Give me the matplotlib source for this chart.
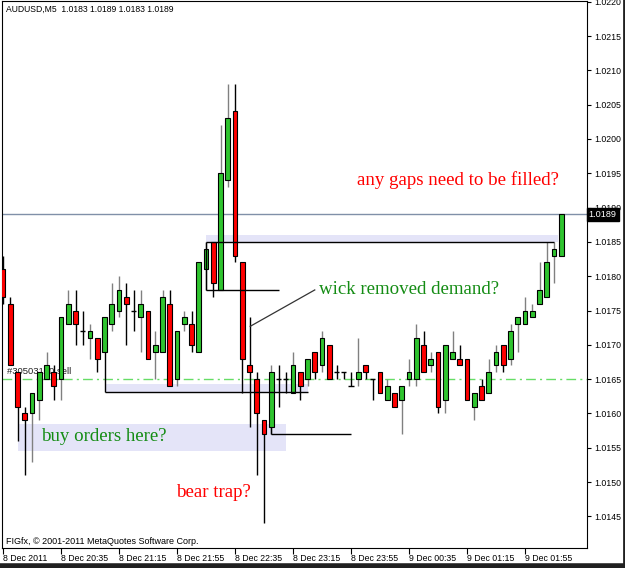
#!/usr/bin/env python3
"""AUDUSD M5 candles with hand-drawn notes, MetaTrader style."""
import numpy as np
import pandas as pd
import matplotlib
matplotlib.use("Agg")
import matplotlib.pyplot as plt
from matplotlib.patches import Rectangle
from matplotlib.transforms import blended_transform_factory

# --- data --------------------------------------------------------------------
opens = [1.0181, 1.0176, 1.0166, 1.0160, 1.0160, 1.0162, 1.0165, 1.0166, 1.0165, 1.0173,
         1.0175, 1.0172, 1.0171, 1.0171, 1.0169, 1.0173, 1.0175, 1.0177, 1.0175, 1.0174,
         1.0175, 1.0169, 1.0169, 1.0176, 1.0165, 1.0173, 1.0173, 1.0169, 1.0181, 1.0185,
         1.0178, 1.0194, 1.0204, 1.0182, 1.0167, 1.0165, 1.0159, 1.0158, 1.0165, 1.0165,
         1.0163, 1.0166, 1.0165, 1.0169, 1.0167, 1.0170, 1.0166, 1.0166, 1.0164, 1.0165,
         1.0167, 1.0165, 1.0166, 1.0162, 1.0163, 1.0162, 1.0165, 1.0165, 1.0170, 1.0167,
         1.0169, 1.0162, 1.0168, 1.0168, 1.0168, 1.0161, 1.0164, 1.0163, 1.0167, 1.0170,
         1.0168, 1.0173, 1.0173, 1.0174, 1.0176, 1.0177, 1.0183, 1.0183]
highs = [1.0183, 1.0177, 1.0166, 1.0161, 1.0163, 1.0166, 1.0169, 1.0167, 1.0174, 1.0178,
         1.0178, 1.0175, 1.0173, 1.0171, 1.0174, 1.0179, 1.0180, 1.0179, 1.0178, 1.0178,
         1.0175, 1.0172, 1.0178, 1.0178, 1.0172, 1.0175, 1.0175, 1.0182, 1.0185, 1.0185,
         1.0202, 1.0208, 1.0208, 1.0182, 1.0174, 1.0166, 1.0159, 1.0167, 1.0167, 1.0166,
         1.0169, 1.0166, 1.0168, 1.0169, 1.0172, 1.0170, 1.0167, 1.0166, 1.0166, 1.0171,
         1.0167, 1.0165, 1.0166, 1.0165, 1.0163, 1.0164, 1.0168, 1.0173, 1.0172, 1.0169,
         1.0169, 1.0170, 1.0172, 1.0170, 1.0168, 1.0163, 1.0165, 1.0168, 1.0170, 1.0170,
         1.0173, 1.0174, 1.0177, 1.0176, 1.0182, 1.0185, 1.0185, 1.0189]
lows = [1.0176, 1.0167, 1.0156, 1.0151, 1.0153, 1.0159, 1.0165, 1.0162, 1.0162, 1.0173,
        1.0170, 1.0170, 1.0168, 1.0166, 1.0169, 1.0172, 1.0174, 1.0170, 1.0172, 1.0169,
        1.0168, 1.0165, 1.0169, 1.0164, 1.0164, 1.0172, 1.0169, 1.0169, 1.0178, 1.0177,
        1.0178, 1.0193, 1.0182, 1.0163, 1.0158, 1.0151, 1.0144, 1.0157, 1.0161, 1.0163,
        1.0163, 1.0162, 1.0164, 1.0165, 1.0166, 1.0165, 1.0165, 1.0165, 1.0164, 1.0164,
        1.0165, 1.0162, 1.0163, 1.0162, 1.0161, 1.0157, 1.0164, 1.0164, 1.0166, 1.0166,
        1.0160, 1.0160, 1.0168, 1.0167, 1.0162, 1.0159, 1.0162, 1.0163, 1.0166, 1.0166,
        1.0167, 1.0169, 1.0173, 1.0174, 1.0176, 1.0177, 1.0179, 1.0183]
closes = [1.0177, 1.0167, 1.0161, 1.0159, 1.0163, 1.0166, 1.0167, 1.0164, 1.0174, 1.0176,
          1.0173, 1.0172, 1.0172, 1.0168, 1.0174, 1.0176, 1.0178, 1.0176, 1.0175, 1.0176,
          1.0168, 1.0170, 1.0177, 1.0164, 1.0172, 1.0174, 1.0170, 1.0182, 1.0184, 1.0179,
          1.0195, 1.0203, 1.0183, 1.0168, 1.0166, 1.0160, 1.0157, 1.0166, 1.0165, 1.0165,
          1.0167, 1.0164, 1.0168, 1.0166, 1.0171, 1.0165, 1.0166, 1.0166, 1.0164, 1.0166,
          1.0166, 1.0165, 1.0163, 1.0164, 1.0161, 1.0164, 1.0166, 1.0171, 1.0166, 1.0168,
          1.0161, 1.0170, 1.0169, 1.0167, 1.0162, 1.0163, 1.0162, 1.0166, 1.0169, 1.0167,
          1.0172, 1.0174, 1.0175, 1.0175, 1.0178, 1.0182, 1.0184, 1.0189]

times = pd.date_range("2011-12-08 19:55", periods=len(opens), freq="5min")
tick_labels = ["8 Dec 2011", "8 Dec 20:35", "8 Dec 21:15", "8 Dec 21:55", "8 Dec 22:35",
               "8 Dec 23:15", "8 Dec 23:55", "9 Dec 00:35", "9 Dec 01:15", "9 Dec 01:55"]
tick_times = ["2011-12-08 19:55", "2011-12-08 20:35", "2011-12-08 21:15", "2011-12-08 21:55",
              "2011-12-08 22:35", "2011-12-08 23:15", "2011-12-08 23:55", "2011-12-09 00:35",
              "2011-12-09 01:15", "2011-12-09 01:55"]
price_ticks = [1.0145, 1.0150, 1.0155, 1.0160, 1.0165, 1.0170, 1.0175, 1.0180,
               1.0185, 1.0190, 1.0195, 1.0200, 1.0205, 1.0210, 1.0215, 1.0220]

bid = 1.0189
order_level = 1.0165
# hand drawn levels: (price, first bar, last bar)
levels = [(1.01632, 14, 42), (1.0185, 28, 76), (1.0178, 28, 38), (1.0157, 37, 48)]
# zones: (low, high, first bar, last bar)
zones = [(1.01546, 1.01585, 2, 39), (1.01632, 1.01643, 14, 42), (1.0185, 1.01860, 28, 76.6)]

UP = "#2fc42f"
DOWN = "#ff0000"

# --- figure -------------------------------------------------------------------
fig = plt.figure(figsize=(6.25, 5.68), dpi=100)
fig.patch.set_facecolor("white")
ax = fig.add_axes([2 / 625, 20 / 568, 585 / 625, 547 / 568])
ax.set_xlim(-0.14, 80.55)
ax.set_ylim(1.01404, 1.02201)

x = np.arange(len(opens))
for i in x:
    o, h, l, c = opens[i], highs[i], lows[i], closes[i]
    bull = c > o
    ax.vlines(i, l, h, color="#808080" if bull else "black", lw=1, zorder=3)
    if o == c:
        ax.hlines(o, i - 0.35, i + 0.35, color="black", lw=1, zorder=4)
    else:
        ax.add_patch(Rectangle((i - 0.33, min(o, c)), 0.66, abs(c - o),
                               facecolor=UP if bull else DOWN, edgecolor="black",
                               lw=0.8, zorder=4))

# zones and drawn lines
for lo, hi, a, b in zones:
    ax.add_patch(Rectangle((a, lo), b - a, hi - lo, facecolor="#e4e4f8",
                           edgecolor="none", zorder=1))
for p, a, b in levels:
    ax.hlines(p, a, b, color="black", lw=1, zorder=5)
ax.vlines(14, 1.01632, 1.0169, color="black", lw=1, zorder=5)
ax.vlines(28, 1.0178, 1.0185, color="black", lw=1, zorder=5)
ax.vlines(37, 1.0157, 1.0158, color="black", lw=1, zorder=5)
ax.plot([34.1, 43.0], [1.01727, 1.0178], color="#333333", lw=0.9, zorder=5)

ax.axhline(bid, color="#8090a8", lw=1, zorder=2)
ax.axhline(order_level, color="#66dd66", lw=1, dashes=(7, 3, 1.5, 3), zorder=2)
ax.text(0.6, 1.01661, "#30503100 sell", fontsize=6.8, color="#222222",
        family="Liberation Sans", va="center", zorder=2)

# notes
serif = "Liberation Serif"
ax.text(62.8, 1.0194, "any gaps need to be filled?", color="red", fontsize=13.6,
        family=serif, ha="center", va="center", zorder=6)
ax.text(56, 1.0178, "wick removed demand?", color="#148c14", fontsize=13.6,
        family=serif, ha="center", va="center", zorder=6)
ax.text(13.9, 1.01566, "buy orders here?", color="#148c14", fontsize=13.6,
        family=serif, ha="center", va="center", zorder=6)
ax.text(29, 1.01485, "bear trap?", color="red", fontsize=13.6,
        family=serif, ha="center", va="center", zorder=6)

ax.text(0.006, 0.993, "AUDUSD,M5  1.0183 1.0189 1.0183 1.0189", transform=ax.transAxes,
        fontsize=6.2, family="Liberation Sans", ha="left", va="top")
ax.text(0.006, 0.004, "FIGfx, \u00a9 2001-2011 MetaQuotes Software Corp.",
        transform=ax.transAxes, fontsize=6.5, family="Liberation Sans",
        ha="left", va="bottom")

# axes styling
tick_pos = [times.get_loc(pd.Timestamp(t)) for t in tick_times]
ax.set_xticks(tick_pos)
ax.set_xticklabels(tick_labels, ha="left", fontsize=6.3, family="Liberation Sans")
ax.tick_params(axis="x", length=4, width=0.8, pad=0.2)
ax.yaxis.tick_right()
ax.set_yticks(price_ticks)
ax.set_yticklabels([f"{p:.4f}" for p in price_ticks], fontsize=6.3, family="Liberation Sans")
ax.tick_params(axis="y", length=3, width=0.8, pad=2)
for s in ax.spines.values():
    s.set_color("black")
    s.set_linewidth(0.8)

tr = blended_transform_factory(ax.transAxes, ax.transData)
ax.text(1.003, bid, "1.0189", transform=tr, color="white", fontsize=6.6,
        family="Liberation Sans", ha="left", va="center", zorder=10,
        bbox=dict(facecolor="black", edgecolor="black", pad=1.6))

# dark screen border on the right and bottom
fig.add_artist(plt.Line2D([0, 1], [0.003, 0.003], transform=fig.transFigure,
                          color="#202020", lw=4))
fig.add_artist(plt.Line2D([0.998, 0.998], [0, 1], transform=fig.transFigure,
                          color="#202020", lw=2))

fig.savefig("out.png", dpi=100, facecolor="white")
